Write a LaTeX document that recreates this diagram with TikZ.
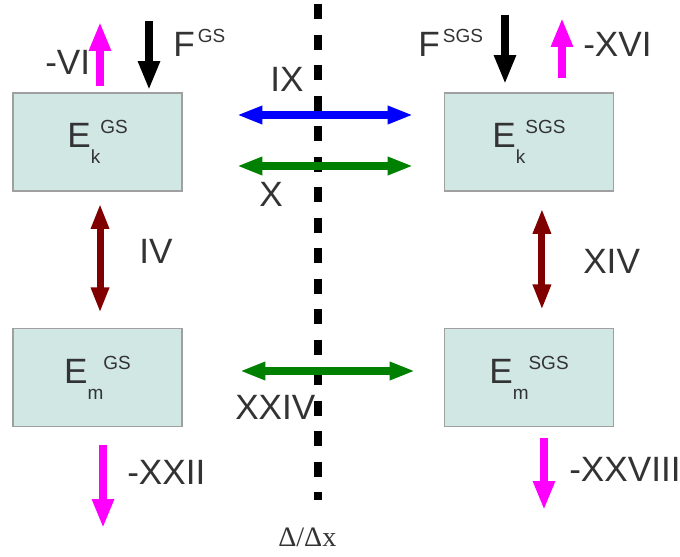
\documentclass[tikz,border=0pt]{standalone}
\usepackage{fontspec}
\setmainfont{Liberation Sans}
\newfontfamily\deltafont{Liberation Serif}
\usetikzlibrary{arrows.meta}

\definecolor{boxfill}{HTML}{D0E7E4}
\definecolor{boxline}{HTML}{A0A0A0}
\definecolor{txtgray}{HTML}{333333}
\definecolor{darkred}{HTML}{800000}
\definecolor{flowgreen}{HTML}{008000}
\definecolor{flowblue}{HTML}{0000FF}
\definecolor{flowmagenta}{HTML}{FF00FF}

\newcommand{\smallfs}{\fontsize{13.5}{16}\selectfont}
\newcommand{\esubsup}[3]{#1\raisebox{-11.4pt}{\smallfs #2}\raisebox{10pt}{\smallfs #3}}
\newcommand{\esup}[2]{#1\raisebox{10.5pt}{\smallfs\,#2}}

\begin{document}
\begin{tikzpicture}[x=0.025cm, y=-0.025cm,
	box/.style={draw=boxline, line width=1pt, fill=boxfill, minimum width=4.225cm, minimum height=2.45cm, inner sep=0pt, text=txtgray, font=\fontsize{25}{30}\selectfont},
	lbl/.style={anchor=base west, inner sep=0pt, text=txtgray, font=\fontsize{25}{30}\selectfont},
	onehead/.style={line width=5pt, -{Triangle[width=14.5pt, length=20.5pt]}},
	twohead/.style={line width=5pt, {Triangle[width=12pt, length=18pt]}-{Triangle[width=12pt, length=18pt]}}]
\useasboundingbox (0,0) rectangle (680,557);

\node[box] (EkGS) at (97.5,142) {\esubsup{E}{k}{GS}};
\node[box] (EkSGS) at (529,142) {\esubsup{E}{k}{SGS}};
\node[box] (EmGS) at (97.5,377.5) {\esubsup{E}{m}{GS}};
\node[box] (EmSGS) at (529,377.5) {\esubsup{E}{m}{SGS}};

\coordinate (cutTop) at (318,4);
\coordinate (cutBot) at (318,500);
\draw[line width=5pt, dash pattern=on 10.7pt off 11pt] (cutTop) -- (cutBot);

\coordinate (ixL) at (237,115);
\coordinate (ixR) at (413,115);
\coordinate (xL) at (237,166);
\coordinate (xR) at (413,166);
\coordinate (xxivL) at (240,371);
\coordinate (xxivR) at (415,371);
\draw[twohead, flowblue] (ixL) -- (ixR);
\draw[twohead, flowgreen] (xL) -- (xR);
\draw[twohead, flowgreen] (xxivL) -- (xxivR);

\draw[twohead, darkred, shorten <=8.5pt, shorten >=10.7pt] ([xshift=1.8pt]EkGS.south) -- ([xshift=1.8pt]EmGS.north);
\draw[twohead, darkred, shorten <=12pt, shorten >=12.8pt] ([xshift=9.2pt]EkSGS.south) -- ([xshift=9.2pt]EmSGS.north);

\coordinate (viBot) at (100,86);
\coordinate (viTop) at (100,22);
\coordinate (fgsTop) at (149,21);
\coordinate (fgsBot) at (149,90);
\coordinate (fsgsTop) at (505,15);
\coordinate (fsgsBot) at (505,84);
\coordinate (xviBot) at (562,78);
\coordinate (xviTop) at (562,18);
\coordinate (xxiiTop) at (103,445);
\coordinate (xxiiBot) at (103,528);
\coordinate (xxviiiTop) at (544,438);
\coordinate (xxviiiBot) at (544,510);
\draw[onehead, flowmagenta] (viBot) -- (viTop);
\draw[onehead, black] (fgsTop) -- (fgsBot);
\draw[onehead, black] (fsgsTop) -- (fsgsBot);
\draw[onehead, flowmagenta] (xviBot) -- (xviTop);
\draw[onehead, flowmagenta] (xxiiTop) -- (xxiiBot);
\draw[onehead, flowmagenta] (xxviiiTop) -- (xxviiiBot);

\node[lbl] (vi) at (45,75) {-VI};
\node[lbl] (fgs) at (173,57) {\esup{F}{GS}};
\node[lbl] (ix) at (270,92) {IX};
\node[lbl] (x) at (259,207) {X};
\node[lbl] (iv) at (139,264) {IV};
\node[lbl] (xiv) at (583,274) {XIV};
\node[lbl] (xxiv) at (235,420) {XXIV};
\node[lbl] (xxii) at (127,485) {-XXII};
\node[lbl] (fsgs) at (418,57) {\esup{F}{SGS}};
\node[lbl] (xvi) at (583,57) {-XVI};
\node[lbl] (xxviii) at (569,482) {-XXVIII};
\node[lbl, font=\deltafont\fontsize{20}{24}\selectfont] (delta) at (278,547) {Δ/Δx};
\end{tikzpicture}
\end{document}
